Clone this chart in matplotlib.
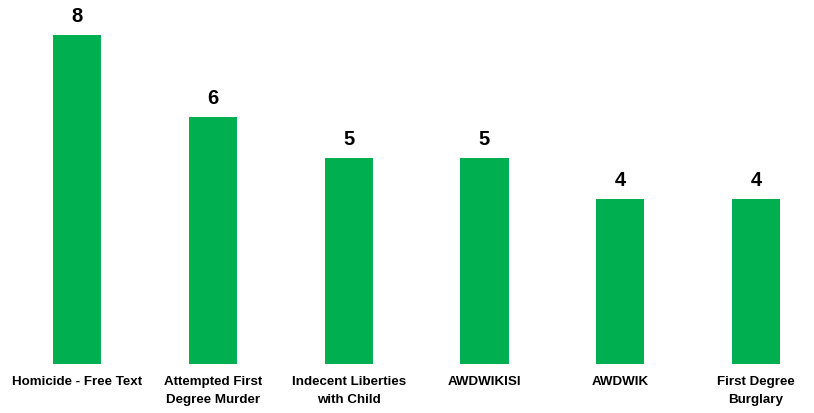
import matplotlib
matplotlib.use("Agg")
import matplotlib.pyplot as plt

categories = ["Homicide - Free Text", "Attempted First\nDegree Murder",
              "Indecent Liberties\nwith Child", "AWDWIKISI", "AWDWIK",
              "First Degree\nBurglary"]
counts = [8, 6, 5, 5, 4, 4]

fig = plt.figure(figsize=(8.14, 4.13), dpi=100)
ax = fig.add_axes([0, 0.1186, 1, 0.8814])

x = list(range(len(categories)))
ax.bar(x, counts, width=0.355, color="#00B050")

for xi, v in zip(x, counts):
    ax.text(xi, v + 0.22, str(v), ha="center", va="bottom",
            fontsize=14.5, fontweight="bold", family="Liberation Sans")

for xi, lab in zip(x, categories):
    ax.text(xi, -0.3, lab, ha="center", va="top", fontsize=9.6,
            fontweight="bold", family="Liberation Sans", linespacing=1.65)

ax.set_xlim(-0.567, 5.427)
ax.set_ylim(0, 8.85)
ax.axis("off")

fig.savefig("out.png", dpi=100)
